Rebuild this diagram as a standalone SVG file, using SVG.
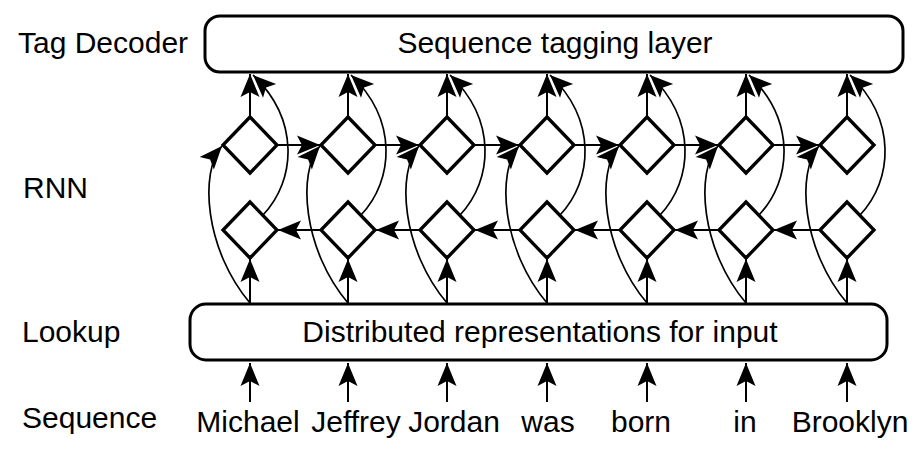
<svg xmlns="http://www.w3.org/2000/svg" xmlns:xlink="http://www.w3.org/1999/xlink" width="923" height="450" viewBox="0 0 923 450">
<style>
text{font-family:"Liberation Sans",Arial,sans-serif;font-size:30px;fill:#000}
.box{fill:#fff;stroke:#000;stroke-width:3}
.dia{fill:#fff;stroke:#000;stroke-width:3.3;stroke-linejoin:miter}
.ln{fill:none;stroke:#000;stroke-width:2;marker-end:url(#ah)}
.cv{fill:none;stroke:#000;stroke-width:1.7;marker-end:url(#ah)}
</style>
<defs>
<marker id="ah" viewBox="-24 -11 25 22" refX="0" refY="0" markerWidth="25" markerHeight="22" markerUnits="userSpaceOnUse" orient="auto">
<path d="M0,0 L-23,-9.5 L-18,0 L-23,9.5 Z" fill="#000"/>
</marker>
<path id="dm" class="dia" d="M0,-28 L27,0 L0,28 L-27,0 Z"/>
</defs>
<rect width="923" height="450" fill="#fff"/>

<g id="labels">
<text x="18" y="53">Tag Decoder</text>
<text x="23" y="198">RNN</text>
<text x="22" y="342">Lookup</text>
<text x="22" y="428">Sequence</text>
</g>

<g id="tag-decoder">
<rect class="box" x="205" y="16" width="698" height="56" rx="15"/>
<text x="555" y="53" text-anchor="middle">Sequence tagging layer</text>
</g>
<g id="lookup">
<rect class="box" x="190" y="304" width="697" height="56" rx="16"/>
<text x="540" y="342" text-anchor="middle">Distributed representations for input</text>
</g>

<g id="words" text-anchor="middle">
<text id="w1" x="248" y="432">Michael</text>
<text id="w2" x="356" y="432">Jeffrey</text>
<text id="w3" x="454" y="432">Jordan</text>
<text id="w4" x="548" y="432">was</text>
<text id="w5" x="641" y="432">born</text>
<text id="w6" x="745" y="432">in</text>
<text id="w7" x="850" y="432">Brooklyn</text>
</g>

<g id="connectors">
<!-- word to lookup -->
<path class="ln" d="M250,402 V363"/>
<path class="ln" d="M348,402 V363"/>
<path class="ln" d="M447,402 V363"/>
<path class="ln" d="M547,402 V363"/>
<path class="ln" d="M647,402 V363"/>
<path class="ln" d="M746,402 V363"/>
<path class="ln" d="M847,402 V363"/>
<!-- lookup to backward cells -->
<path class="ln" d="M250,303 V259"/>
<path class="ln" d="M348,303 V259"/>
<path class="ln" d="M447,303 V259"/>
<path class="ln" d="M547,303 V259"/>
<path class="ln" d="M647,303 V259"/>
<path class="ln" d="M746,303 V259"/>
<path class="ln" d="M847,303 V259"/>
<!-- forward cells to decoder -->
<path class="ln" d="M250,117 V74"/>
<path class="ln" d="M348,117 V74"/>
<path class="ln" d="M447,117 V74"/>
<path class="ln" d="M547,117 V74"/>
<path class="ln" d="M647,117 V74"/>
<path class="ln" d="M746,117 V74"/>
<path class="ln" d="M847,117 V74"/>
<!-- forward recurrence -->
<path class="ln" d="M277,145 H320"/>
<path class="ln" d="M375,145 H419"/>
<path class="ln" d="M474,145 H519"/>
<path class="ln" d="M574,145 H619"/>
<path class="ln" d="M674,145 H718"/>
<path class="ln" d="M773,145 H819"/>
<!-- backward recurrence -->
<path class="ln" d="M321,230 H278"/>
<path class="ln" d="M420,230 H376"/>
<path class="ln" d="M520,230 H475"/>
<path class="ln" d="M620,230 H575"/>
<path class="ln" d="M719,230 H675"/>
<path class="ln" d="M820,230 H774"/>
<!-- lookup to forward cells (curves) -->
<path class="cv" d="M250,303 C205,250 199,172 222,146"/>
<path class="cv" d="M348,303 C303,250 297,172 320,146"/>
<path class="cv" d="M447,303 C402,250 396,172 419,146"/>
<path class="cv" d="M547,303 C502,250 496,172 519,146"/>
<path class="cv" d="M647,303 C602,250 596,172 619,146"/>
<path class="cv" d="M746,303 C701,250 695,172 718,146"/>
<path class="cv" d="M847,303 C802,250 796,172 819,146"/>
<!-- backward cells to decoder (curves) -->
<path class="cv" d="M263,215 C296,180 300,120 253,75"/>
<path class="cv" d="M361,215 C394,180 398,120 351,75"/>
<path class="cv" d="M460,215 C493,180 497,120 450,75"/>
<path class="cv" d="M560,215 C593,180 597,120 550,75"/>
<path class="cv" d="M660,215 C693,180 697,120 650,75"/>
<path class="cv" d="M759,215 C792,180 796,120 749,75"/>
<path class="cv" d="M860,215 C893,180 897,120 850,75"/>
</g>

<g id="forward-cells">
<use id="f1" xlink:href="#dm" x="250" y="145"/>
<use id="f2" xlink:href="#dm" x="348" y="145"/>
<use id="f3" xlink:href="#dm" x="447" y="145"/>
<use id="f4" xlink:href="#dm" x="547" y="145"/>
<use id="f5" xlink:href="#dm" x="647" y="145"/>
<use id="f6" xlink:href="#dm" x="746" y="145"/>
<use id="f7" xlink:href="#dm" x="847" y="145"/>
</g>
<g id="backward-cells">
<use id="b1" xlink:href="#dm" x="250" y="230"/>
<use id="b2" xlink:href="#dm" x="348" y="230"/>
<use id="b3" xlink:href="#dm" x="447" y="230"/>
<use id="b4" xlink:href="#dm" x="547" y="230"/>
<use id="b5" xlink:href="#dm" x="647" y="230"/>
<use id="b6" xlink:href="#dm" x="746" y="230"/>
<use id="b7" xlink:href="#dm" x="847" y="230"/>
</g>
</svg>
